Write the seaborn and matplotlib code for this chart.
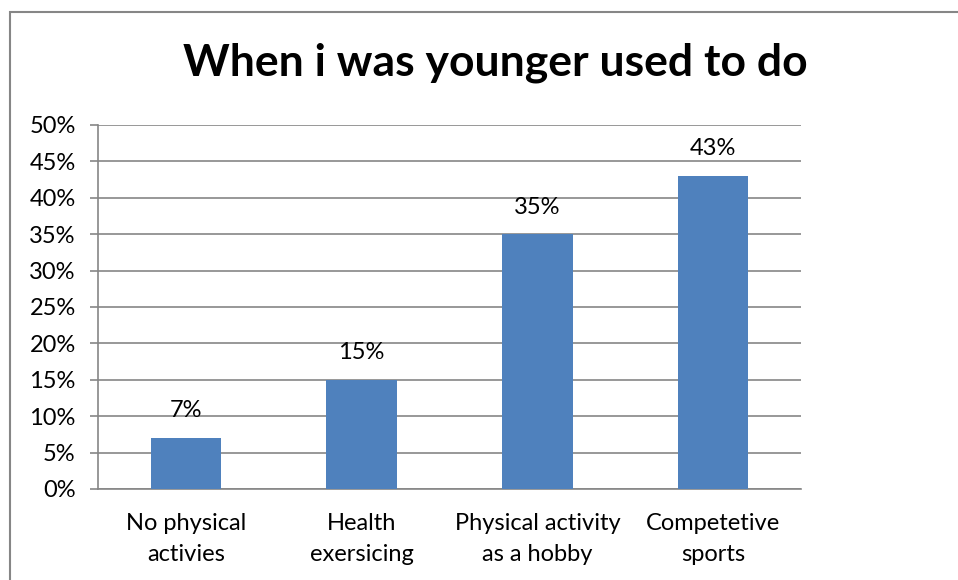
import matplotlib
matplotlib.use("Agg")
import matplotlib.pyplot as plt
from matplotlib.patches import Rectangle
import seaborn as sns
import pandas as pd

# data
categories = ["No physical\nactivies", "Health\nexersicing", "Physical activity\nas a hobby", "Competetive\nsports"]
values = [7, 15, 35, 43]
yticks = [0, 5, 10, 15, 20, 25, 30, 35, 40, 45, 50]

df = pd.DataFrame({"category": categories, "share": values})

sns.set_style("white")
plt.rcParams["font.family"] = ["Lato", "DejaVu Sans"]
plt.rcParams["text.color"] = "black"
plt.rcParams["xtick.labelcolor"] = "black"
plt.rcParams["ytick.labelcolor"] = "black"

grey = "#868686"
fig = plt.figure(figsize=(9.58, 5.8), dpi=100)
ax = fig.add_axes([0.1023, 0.1569, 0.8361 - 0.1023, 0.7845 - 0.1569])

sns.barplot(data=df, x="category", y="share", color="#4F81BD", width=0.4,
            saturation=1, linewidth=0, ax=ax, zorder=3)

ax.set_xlim(-0.5, 3.5)
ax.set_ylim(0, 50)
ax.set_yticks(yticks)
ax.set_yticklabels([f"{t}%" for t in yticks], fontsize=17)
ax.yaxis.grid(True, color=grey, linewidth=1.2, zorder=0)
ax.set_axisbelow(True)

# category labels in the middle, tick marks on the boundaries
ax.set_xticks(range(len(categories)))
ax.set_xticklabels(categories, fontsize=17, linespacing=1.6)
ax.tick_params(axis="x", which="major", length=0, pad=17)
ax.set_xticks([i - 0.5 for i in range(len(categories) + 1)], minor=True)
ax.tick_params(axis="x", which="minor", length=6, width=1.2, color=grey, direction="out")
ax.tick_params(axis="y", length=6, width=1.2, color=grey, direction="out", pad=10, left=True)

for s in ["top", "right"]:
    ax.spines[s].set_visible(False)
for s in ["left", "bottom"]:
    ax.spines[s].set_color(grey)
    ax.spines[s].set_linewidth(1.2)

ax.set_xlabel("")
ax.set_ylabel("")

for i, v in enumerate(values):
    ax.annotate(f"{v}%", (i, v), xytext=(0, 12), textcoords="offset points",
                ha="center", va="bottom", fontsize=17)

fig.text(495 / 958, 1 - 63 / 580, "When i was younger used to do", ha="center", va="center",
         fontsize=32, fontweight="bold")

# outer chart frame (runs past the right and bottom edge)
fig.patches.append(Rectangle((10 / 958, -0.2), 1.2, 1.2 - 12 / 580, transform=fig.transFigure,
                             fill=False, edgecolor=grey, linewidth=1.5))

fig.savefig("out.png", dpi=100)
